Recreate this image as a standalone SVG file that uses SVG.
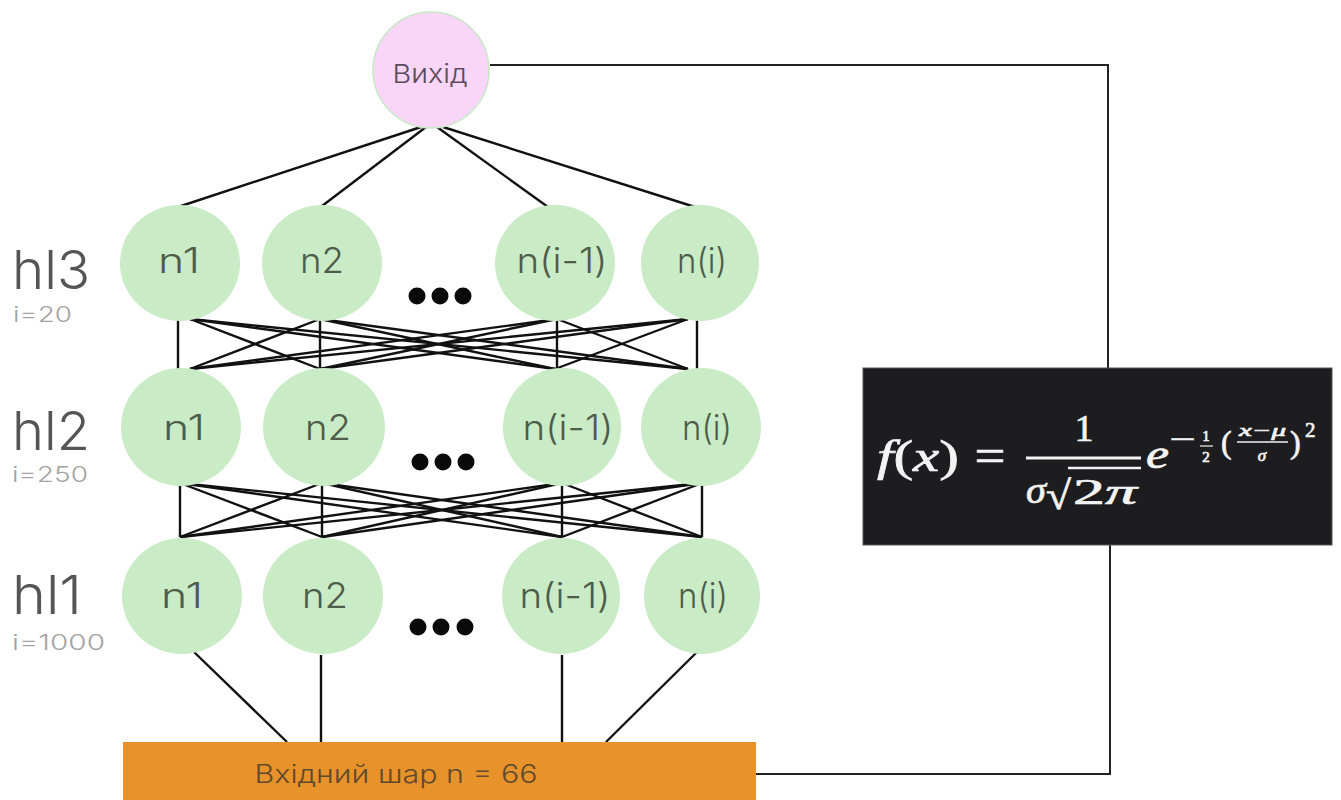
<svg xmlns="http://www.w3.org/2000/svg" width="1341" height="800" viewBox="0 0 1341 800">
<style>
.bg{fill:#ffffff}
.nrn{fill:#c9ebc5}
.out{fill:#f9d6f8;stroke:#c6e8c4;stroke-width:1.5}
.ntx{font-family:Inter,"Liberation Sans",Arial,sans-serif;font-weight:300;font-size:35px;fill:#4d5c4b;text-anchor:middle}
.lay{font-family:Inter,"Liberation Sans",Arial,sans-serif;font-weight:300;font-size:54px;fill:#555555}
.cnt{font-family:Inter,"Liberation Sans",Arial,sans-serif;font-weight:300;font-size:22px;fill:#a3a3a3}
.dot{fill:#0a0a0a}
.edge{stroke:#111;stroke-width:2.4;fill:none}
.wire{stroke:#222;stroke-width:2;fill:none}
.inp{fill:#e8922b}
.itx{font-family:Inter,"Liberation Sans",Arial,sans-serif;font-weight:300;font-size:25px;fill:#5e4a2c;text-anchor:middle}
.fbox{fill:#1d1d1f;stroke:#555;stroke-width:1}
.m{font-family:"Liberation Serif","Times New Roman",serif;fill:#f3f3f3;stroke:#f3f3f3;stroke-width:0.7}
.mi{font-style:italic}
.mbar{stroke:#f3f3f3;fill:none}
</style>
<rect class="bg" x="0" y="0" width="1341" height="800"/>

<g id="connectors">
  <line class="edge" x1="421" y1="127" x2="178" y2="207"/>
  <line class="edge" x1="426" y1="127" x2="322" y2="206"/>
  <line class="edge" x1="437" y1="127" x2="548" y2="207"/>
  <line class="edge" x1="443" y1="127" x2="695" y2="207"/>
  <line class="edge" x1="178" y1="319" x2="178" y2="369"/>
  <line class="edge" x1="190" y1="319" x2="320" y2="369"/>
  <line class="edge" x1="190" y1="319" x2="555" y2="369"/>
  <line class="edge" x1="190" y1="319" x2="688" y2="369"/>
  <line class="edge" x1="320" y1="319" x2="190" y2="369"/>
  <line class="edge" x1="320" y1="319" x2="320" y2="369"/>
  <line class="edge" x1="320" y1="319" x2="555" y2="369"/>
  <line class="edge" x1="320" y1="319" x2="688" y2="369"/>
  <line class="edge" x1="557" y1="319" x2="190" y2="369"/>
  <line class="edge" x1="557" y1="319" x2="320" y2="369"/>
  <line class="edge" x1="557" y1="319" x2="557" y2="369"/>
  <line class="edge" x1="557" y1="319" x2="688" y2="369"/>
  <line class="edge" x1="688" y1="319" x2="190" y2="369"/>
  <line class="edge" x1="688" y1="319" x2="320" y2="369"/>
  <line class="edge" x1="688" y1="319" x2="555" y2="369"/>
  <line class="edge" x1="697" y1="319" x2="697" y2="369"/>
  <line class="edge" x1="180" y1="483" x2="180" y2="537"/>
  <line class="edge" x1="180" y1="483" x2="322" y2="537"/>
  <line class="edge" x1="180" y1="483" x2="562" y2="537"/>
  <line class="edge" x1="180" y1="483" x2="702" y2="537"/>
  <line class="edge" x1="322" y1="483" x2="180" y2="537"/>
  <line class="edge" x1="322" y1="483" x2="322" y2="537"/>
  <line class="edge" x1="322" y1="483" x2="562" y2="537"/>
  <line class="edge" x1="322" y1="483" x2="702" y2="537"/>
  <line class="edge" x1="562" y1="483" x2="180" y2="537"/>
  <line class="edge" x1="562" y1="483" x2="322" y2="537"/>
  <line class="edge" x1="562" y1="483" x2="562" y2="537"/>
  <line class="edge" x1="562" y1="483" x2="702" y2="537"/>
  <line class="edge" x1="702" y1="483" x2="180" y2="537"/>
  <line class="edge" x1="702" y1="483" x2="322" y2="537"/>
  <line class="edge" x1="702" y1="483" x2="562" y2="537"/>
  <line class="edge" x1="702" y1="483" x2="702" y2="537"/>
  <line class="edge" x1="194" y1="652" x2="287" y2="742"/>
  <line class="edge" x1="321" y1="655" x2="321" y2="742"/>
  <line class="edge" x1="562" y1="655" x2="562" y2="742"/>
  <line class="edge" x1="697" y1="652" x2="606" y2="742"/>
  <polyline class="wire" points="490,65 1108,65 1108,368"/>
  <polyline class="wire" points="1110,545 1110,774 756,774"/>
</g>

<g id="out">
  <circle class="out" cx="431" cy="70" r="58"/>
  <text x="430" y="83" font-family="Inter,'Liberation Sans',Arial,sans-serif" font-weight="300" font-size="26" fill="#5b4b5b" text-anchor="middle" textLength="75" lengthAdjust="spacingAndGlyphs">Вихід</text>
</g>

<g id="label-hl3">
  <text class="lay" x="12" y="289" textLength="78" lengthAdjust="spacingAndGlyphs">hl3</text>
  <text class="cnt" x="13" y="322" textLength="59" lengthAdjust="spacingAndGlyphs">i=20</text>
</g>
<g id="label-hl2">
  <text class="lay" x="12" y="450" textLength="78" lengthAdjust="spacingAndGlyphs">hl2</text>
  <text class="cnt" x="12" y="482" textLength="76" lengthAdjust="spacingAndGlyphs">i=250</text>
</g>
<g id="label-hl1">
  <text class="lay" x="12" y="614" textLength="70" lengthAdjust="spacingAndGlyphs">hl1</text>
  <text class="cnt" x="12" y="650" textLength="93" lengthAdjust="spacingAndGlyphs">i=1000</text>
</g>

<g id="hl3-n1"><ellipse class="nrn" cx="180" cy="263" rx="60" ry="58"/><text class="ntx" x="179" y="273" textLength="42" lengthAdjust="spacingAndGlyphs">n1</text></g>
<g id="hl3-n2"><ellipse class="nrn" cx="322" cy="263" rx="60" ry="58"/><text class="ntx" x="322" y="273" textLength="44" lengthAdjust="spacingAndGlyphs">n2</text></g>
<g id="hl3-dots"><circle class="dot" cx="417" cy="296" r="8.5"/><circle class="dot" cx="440" cy="296" r="8.5"/><circle class="dot" cx="463" cy="296" r="8.5"/></g>
<g id="hl3-ni1"><ellipse class="nrn" cx="555" cy="263" rx="60" ry="58"/><text class="ntx" x="562" y="273" textLength="91" lengthAdjust="spacingAndGlyphs">n(i-1)</text></g>
<g id="hl3-ni"><ellipse class="nrn" cx="700" cy="263" rx="59" ry="58"/><text class="ntx" x="702" y="273" textLength="50" lengthAdjust="spacingAndGlyphs">n(i)</text></g>

<g id="hl2-n1"><ellipse class="nrn" cx="181" cy="427" rx="60" ry="59"/><text class="ntx" x="184" y="440" textLength="42" lengthAdjust="spacingAndGlyphs">n1</text></g>
<g id="hl2-n2"><ellipse class="nrn" cx="324" cy="427" rx="61" ry="59"/><text class="ntx" x="328" y="440" textLength="46" lengthAdjust="spacingAndGlyphs">n2</text></g>
<g id="hl2-dots"><circle class="dot" cx="420" cy="462" r="8.5"/><circle class="dot" cx="443" cy="462" r="8.5"/><circle class="dot" cx="466" cy="462" r="8.5"/></g>
<g id="hl2-ni1"><ellipse class="nrn" cx="562" cy="427" rx="59" ry="59"/><text class="ntx" x="568" y="440" textLength="91" lengthAdjust="spacingAndGlyphs">n(i-1)</text></g>
<g id="hl2-ni"><ellipse class="nrn" cx="701" cy="427" rx="60" ry="59"/><text class="ntx" x="707" y="440" textLength="50" lengthAdjust="spacingAndGlyphs">n(i)</text></g>

<g id="hl1-n1"><ellipse class="nrn" cx="182" cy="596" rx="60" ry="58"/><text class="ntx" x="182" y="608" textLength="42" lengthAdjust="spacingAndGlyphs">n1</text></g>
<g id="hl1-n2"><ellipse class="nrn" cx="323" cy="596" rx="60" ry="58"/><text class="ntx" x="325" y="608" textLength="46" lengthAdjust="spacingAndGlyphs">n2</text></g>
<g id="hl1-dots"><circle class="dot" cx="418" cy="627" r="8.5"/><circle class="dot" cx="441" cy="627" r="8.5"/><circle class="dot" cx="465" cy="627" r="8.5"/></g>
<g id="hl1-ni1"><ellipse class="nrn" cx="561" cy="596" rx="59" ry="58"/><text class="ntx" x="565" y="608" textLength="91" lengthAdjust="spacingAndGlyphs">n(i-1)</text></g>
<g id="hl1-ni"><ellipse class="nrn" cx="702" cy="596" rx="58" ry="58"/><text class="ntx" x="703" y="608" textLength="50" lengthAdjust="spacingAndGlyphs">n(i)</text></g>

<g id="input">
  <rect class="inp" x="123" y="742" width="633" height="58"/>
  <text class="itx" x="396" y="783" textLength="283" lengthAdjust="spacingAndGlyphs">Вхідний шар n = 66</text>
</g>

<g id="formula">
  <rect class="fbox" x="863" y="368" width="469" height="177"/>
  <text class="m" x="877" y="471" font-size="44" textLength="82" lengthAdjust="spacingAndGlyphs"><tspan class="mi">f</tspan>(<tspan class="mi">x</tspan>)</text>
  <text class="m" x="990" y="471" font-size="46" text-anchor="middle" textLength="31" lengthAdjust="spacingAndGlyphs">=</text>
  <text class="m" x="1084" y="441" font-size="38" text-anchor="middle" textLength="19" lengthAdjust="spacingAndGlyphs">1</text>
  <line class="mbar" x1="1026" y1="458" x2="1141" y2="458" stroke-width="3"/>
  <text class="m mi" x="1026" y="503" font-size="38" textLength="20" lengthAdjust="spacingAndGlyphs">σ</text>
  <text class="m" x="1046" y="509" font-size="40" textLength="25" lengthAdjust="spacingAndGlyphs">√</text>
  <line class="mbar" x1="1068" y1="468" x2="1141" y2="468" stroke-width="2.5"/>
  <text class="m" x="1073" y="504" font-size="36" textLength="64" lengthAdjust="spacingAndGlyphs">2<tspan class="mi">π</tspan></text>
  <text class="m mi" x="1146" y="468" font-size="40" textLength="23" lengthAdjust="spacingAndGlyphs">e</text>
  <text class="m" x="1170" y="448" font-size="26" textLength="26" lengthAdjust="spacingAndGlyphs">−</text>
  <text class="m" x="1206" y="441" font-size="15" text-anchor="middle">1</text>
  <line class="mbar" x1="1200" y1="446" x2="1213" y2="446" stroke-width="1.2"/>
  <text class="m" x="1206" y="462" font-size="15" text-anchor="middle">2</text>
  <text class="m" x="1221" y="453" font-size="32">(</text>
  <text class="m mi" x="1239" y="436" font-size="17" textLength="47" lengthAdjust="spacingAndGlyphs">x−μ</text>
  <line class="mbar" x1="1237" y1="442" x2="1288" y2="442" stroke-width="1.5"/>
  <text class="m mi" x="1262" y="461" font-size="17" text-anchor="middle">σ</text>
  <text class="m" x="1290" y="453" font-size="32">)</text>
  <text class="m" x="1305" y="437" font-size="21">2</text>
</g>
</svg>
